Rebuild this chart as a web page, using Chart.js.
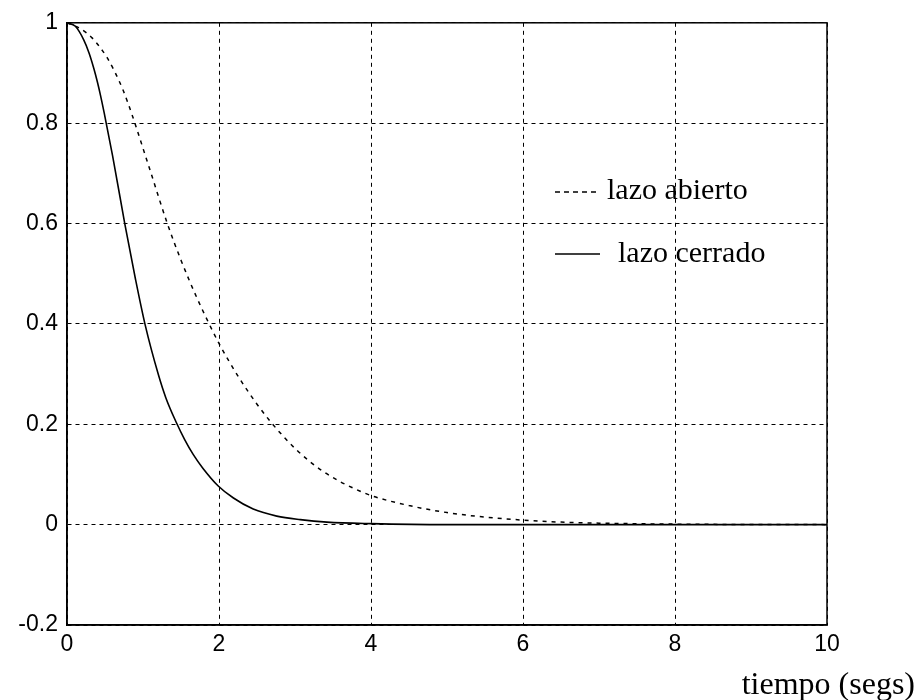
<!DOCTYPE html>
<html>
<head>
<meta charset="utf-8">
<script src="https://cdn.jsdelivr.net/npm/chart.js@4.4.1/dist/chart.umd.min.js"></script>
<style>
  html, body { margin: 0; padding: 0; background: #ffffff; }
  #wrap { width: 922px; height: 700px; position: relative; }
</style>
</head>
<body>
<div id="wrap"><canvas id="c" width="922" height="700"></canvas></div>
<script>
// ---- data ----
const seriesLabels = ["lazo abierto", "lazo cerrado"];
const xAxisTitle = "tiempo (segs)";

const closedT = [0, 0.11, 0.22, 0.29, 0.355, 0.4, 0.44, 0.49, 0.6, 0.76, 0.9, 1.03, 1.2, 1.3, 1.44, 1.55, 1.66, 1.79, 1.99, 2.19, 2.45, 2.76, 3.07, 3.42, 4.0, 5.0, 6.0, 8.0, 10.0];
const closedY = [1, 0.993, 0.966, 0.94, 0.908, 0.882, 0.856, 0.82, 0.735, 0.60, 0.49, 0.397, 0.30, 0.253, 0.203, 0.169, 0.14, 0.112, 0.077, 0.053, 0.031, 0.017, 0.01, 0.005, 0.002, 0.0, 0.0, 0.0, 0.0];

const openT = [0, 0.18, 0.33, 0.44, 0.53, 0.62, 0.74, 0.86, 1.0, 1.1, 1.32, 1.5, 1.7, 1.88, 2.0, 2.25, 2.5, 2.69, 2.87, 3.02, 3.2, 3.37, 3.59, 3.75, 4.0, 4.5, 5.0, 5.5, 6.0, 6.5, 7.0, 8.0, 10.0];
const openY = [1, 0.988, 0.97, 0.95, 0.93, 0.905, 0.865, 0.815, 0.75, 0.703, 0.60, 0.527, 0.455, 0.397, 0.361, 0.296, 0.24, 0.203, 0.172, 0.149, 0.125, 0.106, 0.086, 0.074, 0.058, 0.038, 0.024, 0.015, 0.009, 0.005, 0.003, 0.001, 0.0];

const xTicks = [0, 2, 4, 6, 8, 10];
const xTickLabels = ["0", "2", "4", "6", "8", "10"];
const yTicks = [-0.2, 0, 0.2, 0.4, 0.6, 0.8, 1];
const yTickLabels = ["-0.2", "0", "0.2", "0.4", "0.6", "0.8", "1"];

const toPts = (xs, ys) => xs.map((x, i) => ({ x: x, y: ys[i] }));

const tickFont = { family: "'Liberation Sans', Arial, sans-serif", size: 23 };
const serif = "'Liberation Serif', 'Times New Roman', serif";

const overlay = {
  id: 'overlay',
  afterDraw(chart) {
    const ctx = chart.ctx;
    ctx.save();
    ctx.fillStyle = '#000';
    ctx.strokeStyle = '#000';
    // legend
    ctx.font = "30px " + serif;
    ctx.textBaseline = 'alphabetic';
    ctx.textAlign = 'left';
    ctx.lineWidth = 1.6;
    ctx.setLineDash([5, 4]);
    ctx.beginPath(); ctx.moveTo(555, 192); ctx.lineTo(596, 192); ctx.stroke();
    ctx.setLineDash([]);
    ctx.fillText(chart.data.datasets[0].label, 607, 199);
    ctx.beginPath(); ctx.moveTo(555, 254); ctx.lineTo(600, 254); ctx.stroke();
    ctx.fillText(chart.data.datasets[1].label, 618, 262);
    // x axis title
    ctx.font = "32px " + serif;
    ctx.textAlign = 'right';
    ctx.fillText(xAxisTitle, 915, 694);
    ctx.restore();
  }
};

new Chart(document.getElementById('c'), {
  type: 'line',
  data: {
    datasets: [
      {
        label: seriesLabels[0],
        data: toPts(openT, openY),
        borderColor: '#000',
        borderWidth: 1.5,
        borderDash: [4, 5],
        pointRadius: 0,
        fill: false,
        cubicInterpolationMode: 'monotone'
      },
      {
        label: seriesLabels[1],
        data: toPts(closedT, closedY),
        borderColor: '#000',
        borderWidth: 1.6,
        pointRadius: 0,
        fill: false,
        cubicInterpolationMode: 'monotone'
      }
    ]
  },
  options: {
    responsive: false,
    animation: false,
    devicePixelRatio: 1,
    layout: { padding: { left: 0, top: 19, right: 95, bottom: 0 } },
    plugins: { legend: { display: false }, tooltip: { enabled: false }, title: { display: false } },
    scales: {
      x: {
        type: 'linear',
        min: 0, max: 10,
        afterBuildTicks(axis) { axis.ticks = xTicks.map(v => ({ value: v })); },
        afterFit(axis) { axis.height = 75; },
        ticks: {
          color: '#000',
          font: tickFont,
          padding: 6,
          maxRotation: 0,
          callback: (v) => { const i = xTicks.indexOf(v); return i >= 0 ? xTickLabels[i] : ''; }
        },
        grid: { color: '#000', lineWidth: 1, drawTicks: false, tickLength: 0 },
        border: { display: true, color: '#000', width: 1.5, dash: [4, 4] }
      },
      y: {
        type: 'linear',
        min: -0.2, max: 1,
        afterBuildTicks(axis) { axis.ticks = yTicks.map(v => ({ value: v })); },
        afterFit(axis) { axis.width = 67; },
        ticks: {
          color: '#000',
          font: tickFont,
          padding: 9,
          callback: (v) => { const i = yTicks.findIndex(t => Math.abs(t - v) < 1e-9); return i >= 0 ? yTickLabels[i] : ''; }
        },
        grid: { color: '#000', lineWidth: 1, drawTicks: false, tickLength: 0 },
        border: { display: true, color: '#000', width: 1.5, dash: [4, 4] }
      }
    }
  },
  plugins: [{
    id: 'frame',
    afterDatasetsDraw(chart) {
      const a = chart.chartArea, ctx = chart.ctx;
      ctx.save();
      ctx.strokeStyle = '#000';
      ctx.lineWidth = 1.5;
      ctx.setLineDash([]);
      ctx.strokeRect(a.left, a.top, a.right - a.left, a.bottom - a.top);
      ctx.restore();
    }
  }, overlay]
});
</script>
</body>
</html>
